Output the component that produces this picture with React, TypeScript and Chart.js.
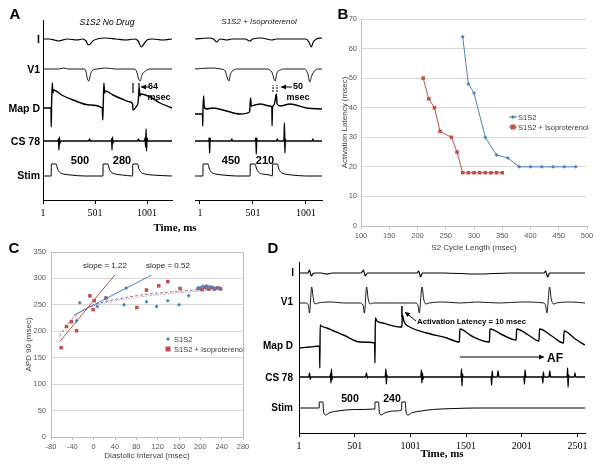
import React, { useEffect, useRef } from "react";
import { Chart, registerables } from "chart.js";

Chart.register(...registerables);

// ================= DATA =================
// Panel A, left record (S1S2 No Drug): [time ms, deflection]
const aNoDrugI = [[1,0],[60,0],[110,-1],[150,-2],[190,-1],[230,0],[330,-1],[380,0],[415,-2],[435,-6],[455,-5],[480,-2],[520,0],[600,1],[700,0],[800,-1],[880,0],[915,-2],[945,-8],[970,-5],[1000,-1],[1050,0],[1150,-1],[1240,0]];
const aNoDrugV1 = [[1,0],[150,0],[200,1],[250,0],[400,0],[415,-3],[428,-10],[442,-12],[458,-5],[480,-1],[520,0],[600,1],[700,0],[880,0],[902,-3],[920,-10],[935,-12],[952,-6],[985,-2],[1030,0],[1240,0]];
const aNoDrugMap = [[1,0],[78,0],[80,-19],[84,5],[90,25],[96,15],[104,18],[180,13],[290,8],[450,3],[570,0],[575,-12],[580,5],[586,25],[592,15],[600,17],[673,13],[760,9],[840,6],[862,4],[865,-2],[900,2],[915,6],[925,20],[933,12],[942,14],[1030,11],[1125,5],[1240,0]];
const aNoDrugCS = [[1,0],[145,0],[150,2],[154,-9],[158,4],[162,-3],[168,0],[440,0],[448,2],[456,0],[655,0],[660,2],[664,-9],[668,4],[672,-2],[680,0],[910,0],[918,2],[926,0],[975,0],[982,3],[987,-6],[991,12],[995,-10],[1000,3],[1008,0],[1240,0]];
const aNoDrugStim = [[1,0],[80,0],[81,12],[128,12],[138,8],[158,4],[198,2],[268,1],[400,0],[577,0],[578,12],[625,12],[635,8],[655,4],[695,2],[765,1],[862,0],[863,12],[910,12],[920,8],[940,4],[980,2],[1050,1],[1240,0]];

// Panel A, right record (S1S2 + Isoproterenol)
const aIsoI = [[-45,0],[80,1],[130,0],[160,-3],[190,0],[260,-1],[300,0],[430,0],[470,-2],[500,0],[580,1],[680,-1],[720,0],[1000,0],[1030,-3],[1052,-8],[1070,-3],[1100,0],[1153,1]];
const aIsoV1 = [[-45,0],[100,1],[200,0],[240,-2],[260,-9],[275,-12],[290,-5],[320,-1],[360,0],[620,0],[680,-3],[700,-10],[712,-12],[725,-5],[760,-1],[800,0],[990,0],[1020,-5],[1038,-13],[1055,-7],[1090,-1],[1120,0],[1153,0]];
const aIsoMap = [[-45,-6],[1,-6],[26,-6],[28,-18],[31,0],[36,12],[42,2],[60,-1],[120,0],[220,-2],[380,-6],[470,-4],[472,-2],[476,6],[480,10],[486,2],[520,3],[570,4],[660,2],[680,1],[682,-18],[686,0],[700,3],[712,8],[722,14],[730,4],[760,2],[850,4],[1010,0],[1153,-1]];
const aIsoCS = [[-45,0],[85,0],[89,3],[93,-12],[97,3],[101,0],[295,0],[302,2],[310,0],[525,0],[529,3],[533,-13],[537,3],[541,0],[725,0],[732,2],[740,0],[790,0],[795,3],[799,18],[803,-12],[807,2],[812,0],[1060,0],[1067,2],[1074,0],[1153,0]];
const aIsoStim = [[-45,0],[30,0],[31,12],[78,12],[88,8],[108,4],[150,2],[220,1],[350,0],[475,0],[476,12],[523,12],[533,8],[553,4],[593,2],[660,1],[685,0],[686,12],[733,12],[743,8],[763,4],[803,2],[870,1],[1000,0],[1153,0]];
const aTimeTicks = [1, 501, 1001];

// Panel B: activation latency vs S2 cycle length
const bCycleS1S2 = [280, 290, 300, 320, 340, 360, 380, 400, 420, 440, 460, 480];
const bLatencyS1S2 = [64, 48, 45, 30, 24, 23, 20, 20, 20, 20, 20, 20];
const bCycleIso = [210, 220, 230, 240, 260, 270, 280, 290, 300, 310, 320, 330, 340, 350];
const bLatencyIso = [50, 43, 40, 32, 30, 25, 18, 18, 18, 18, 18, 18, 18, 18];

// Panel C: APD90 vs diastolic interval
const cDiS1S2 = [-26, -32, 7, 23, 61, 57, 99, 118, 139, 160, 178, 196, 200, 205, 212, 218, 224, 230, 236];
const cApdS1S2 = [254, 220, 247, 263, 282, 250, 256, 247, 258, 250, 267, 282, 283, 285, 282, 284, 283, 282, 282];
const cDiIso = [-61, -51, -42, -32, -7, 1, -1, 23, 81, 99, 122, 139, 162, 196, 203, 208, 212, 216, 220, 226, 232, 238];
const cApdIso = [169, 209, 218, 201, 267, 258, 241, 263, 245, 278, 286, 294, 281, 281, 279, 283, 285, 280, 283, 280, 282, 280];
const cFitIsoX = [-64, 40];
const cFitIsoY = [180, 307];
const cFitS1S2X = [-36, 108];
const cFitS1S2Y = [231, 306];
const cLogIsoX = [-64, -50, -35, -20, 0, 30, 60, 100, 150, 200, 240];
const cLogIsoY = [190, 212, 228, 240, 250, 258, 264, 270, 275, 279, 282];
const cLogS1S2X = [-40, -20, 0, 40, 80, 120, 160, 200, 240];
const cLogS1S2Y = [226, 240, 248, 258, 264, 269, 273, 276, 279];

// Panel D: induction of AF
const dI = [[1,0],[80,0],[95,3],[110,-3],[125,-1],[140,0],[200,0],[250,-1],[300,0],[560,0],[580,3],[595,-3],[615,0],[1060,0],[1075,2],[1092,-4],[1110,0],[1300,0],[1600,-1],[1900,0],[2200,0],[2215,2],[2232,-4],[2250,0],[2568,0]];
const dV1 = [[1,0],[60,0],[85,-2],[95,-10],[115,16],[130,4],[145,-1],[170,0],[300,1],[400,0],[550,0],[575,-2],[588,-10],[608,16],[622,4],[640,-1],[665,0],[800,0],[1050,0],[1070,-3],[1080,-10],[1105,16],[1120,4],[1140,-1],[1170,0],[1300,1],[1450,0],[1600,1],[1800,0],[2000,1],[2200,0],[2215,-3],[2226,-10],[2250,16],[2265,4],[2285,-1],[2310,0],[2450,1],[2568,0]];
const dMap = [[1,0],[100,1],[185,2],[188,-20],[191,23],[200,22],[250,20],[400,13],[550,6],[680,5],[683,-15],[686,30],[700,27],[754,25],[906,21],[925,21],[928,33],[945,26],[996,21],[1149,15],[1328,10],[1440,6],[1445,19],[1550,12],[1710,6],[1715,19],[1830,13],[1950,8],[1955,19],[2060,13],[2155,7],[2160,19],[2270,12],[2375,5],[2380,17],[2480,9],[2568,3]];
const dCS = [[1,0],[90,0],[95,4],[102,-2],[108,0],[280,0],[284,3],[288,-6],[292,8],[296,-3],[300,0],[600,0],[606,4],[614,-1],[620,0],[772,0],[777,2],[781,8],[785,-7],[789,2],[795,0],[1095,0],[1100,7],[1104,-6],[1108,4],[1114,-2],[1120,0],[1455,0],[1460,8],[1464,-9],[1468,3],[1474,0],[1725,0],[1730,-8],[1735,6],[1740,0],[1780,0],[1788,6],[1795,0],[2020,0],[2025,-7],[2030,7],[2036,0],[2185,0],[2190,-6],[2194,5],[2200,0],[2245,0],[2252,6],[2258,0],[2408,0],[2412,9],[2416,-10],[2420,2],[2426,0],[2472,0],[2478,4],[2484,0],[2568,0]];
const dStim = [[1,0],[182,0],[183,6],[215,6],[222,-4],[240,-7],[270,-5],[350,-3],[500,-1.5],[682,-1],[683,6],[715,6],[722,-4],[740,-7],[770,-5],[850,-3],[922,-2],[923,6],[955,6],[962,-4],[980,-7],[1010,-5],[1100,-3],[1200,-1.5],[1400,-0.5],[1600,0],[2568,0]];
const dTimeTicks = [1, 501, 1001, 1501, 2001, 2501];

// ================= STYLE / HELPERS =================
const SANS = "'Liberation Sans', Arial, Helvetica, sans-serif";
const SERIF = "'Liberation Serif', 'Times New Roman', serif";
const BLUE = "#4f81bd";
const RED = "#c0504d";

type Mark = { x1: number; y1: number; x2: number; y2: number; arrow?: boolean; width?: number; dash?: number[] };

const marksPlugin: any = {
  id: "marks",
  afterDatasetsDraw(chart: any, _a: any, opts: any) {
    const items: Mark[] = (opts && opts.items) || [];
    const { ctx } = chart;
    const xs = chart.scales.x, ys = chart.scales.y;
    ctx.save();
    items.forEach((m) => {
      const x1 = xs.getPixelForValue(m.x1), y1 = ys.getPixelForValue(m.y1);
      const x2 = xs.getPixelForValue(m.x2), y2 = ys.getPixelForValue(m.y2);
      ctx.strokeStyle = "#000";
      ctx.fillStyle = "#000";
      ctx.lineWidth = m.width || 1;
      ctx.setLineDash(m.dash || []);
      ctx.beginPath();
      ctx.moveTo(x1, y1);
      ctx.lineTo(x2, y2);
      ctx.stroke();
      if (m.arrow) {
        const ang = Math.atan2(y2 - y1, x2 - x1);
        const L = 5, W = 2.5;
        ctx.setLineDash([]);
        ctx.beginPath();
        ctx.moveTo(x2, y2);
        ctx.lineTo(x2 - L * Math.cos(ang) + W * Math.sin(ang), y2 - L * Math.sin(ang) - W * Math.cos(ang));
        ctx.lineTo(x2 - L * Math.cos(ang) - W * Math.sin(ang), y2 - L * Math.sin(ang) + W * Math.cos(ang));
        ctx.closePath();
        ctx.fill();
      }
    });
    ctx.restore();
  },
};

const keyPlugin: any = {
  id: "key",
  afterDraw(chart: any, _a: any, opts: any) {
    const items = (opts && opts.items) || [];
    const { ctx } = chart;
    ctx.save();
    items.forEach((it: any) => {
      const ds = chart.data.datasets[it.dataset];
      const cx = it.x + (it.line ? it.len / 2 : 0);
      if (it.line) {
        ctx.strokeStyle = ds.borderColor;
        ctx.lineWidth = 1;
        ctx.beginPath();
        ctx.moveTo(it.x, it.y);
        ctx.lineTo(it.x + it.len, it.y);
        ctx.stroke();
      }
      ctx.fillStyle = ds.backgroundColor;
      const r = ds.pointRadius;
      if (ds.pointStyle === "rect") {
        ctx.fillRect(cx - r, it.y - r, 2 * r, 2 * r);
      } else {
        ctx.beginPath();
        ctx.moveTo(cx, it.y - r);
        ctx.lineTo(cx + r, it.y);
        ctx.lineTo(cx, it.y + r);
        ctx.lineTo(cx - r, it.y);
        ctx.closePath();
        ctx.fill();
      }
      ctx.fillStyle = "#404040";
      ctx.font = `7.5px ${SANS}`;
      ctx.textBaseline = "middle";
      ctx.textAlign = "left";
      ctx.fillText(it.label, it.textX, it.y + 0.5);
    });
    ctx.restore();
  },
};

const framePlugin: any = {
  id: "frame",
  afterDraw(chart: any, _a: any, opts: any) {
    if (!opts || !opts.show) return;
    const { ctx, chartArea: a } = chart;
    ctx.save();
    ctx.strokeStyle = "#bfbfbf";
    ctx.lineWidth = 1;
    ctx.strokeRect(Math.round(a.left) + 0.5, Math.round(a.top) + 0.5, Math.round(a.right - a.left), Math.round(a.bottom - a.top));
    ctx.restore();
  },
};

type Lane = { pts: number[][]; base: number; width: number };

function traceConfig(o: {
  lanes: Lane[]; xMin: number; xMax: number; yMax: number; ticks: number[];
  yAxis: boolean; yWidth: number; xHeight: number; padding: any; marks: Mark[]; title?: string;
}): any {
  return {
    type: "line",
    data: {
      datasets: o.lanes.map((l) => ({
        data: l.pts.map((p) => ({ x: p[0], y: l.base + p[1] })),
        borderColor: "#000",
        borderWidth: l.width,
        pointRadius: 0,
        cubicInterpolationMode: "monotone",
        fill: false,
      })),
    },
    plugins: [marksPlugin],
    options: {
      responsive: false,
      animation: false,
      events: [],
      layout: { padding: o.padding },
      plugins: { legend: { display: false }, tooltip: { enabled: false }, marks: { items: o.marks } },
      scales: {
        x: {
          type: "linear",
          min: o.xMin,
          max: o.xMax,
          afterBuildTicks: (s: any) => { s.ticks = o.ticks.map((v) => ({ value: v })); },
          afterFit: (s: any) => { s.height = o.xHeight; },
          ticks: { font: { family: SERIF, size: 10 }, color: "#000", padding: 3, maxRotation: 0, autoSkip: false, callback: (v: any) => String(v) },
          grid: { display: true, drawOnChartArea: false, drawTicks: true, tickLength: 4, color: "#000" },
          border: { display: true, color: "#000", width: 1 },
          title: o.title
            ? { display: true, text: o.title, font: { family: SERIF, size: 11, weight: "bold" }, color: "#000", padding: { top: 0, bottom: 9 } }
            : { display: false },
        },
        y: {
          display: o.yAxis,
          min: 0,
          max: o.yMax,
          afterFit: (s: any) => { s.width = o.yWidth; },
          ticks: { display: false },
          grid: { display: false },
          border: { display: true, color: "#000", width: 1 },
        },
      },
    },
  };
}

const pairs = (xs: number[], ys: number[]) => xs.map((x, i) => ({ x, y: ys[i] }));

const axisTick = { font: { family: SANS, size: 7.5 }, color: "#595959" };

function configB(): any {
  return {
    type: "scatter",
    data: {
      datasets: [
        { data: pairs(bCycleS1S2, bLatencyS1S2), showLine: true, borderColor: BLUE, backgroundColor: BLUE, borderWidth: 1, pointStyle: "rectRot", pointRadius: 2, pointBorderWidth: 0 },
        { data: pairs(bCycleIso, bLatencyIso), showLine: true, borderColor: RED, backgroundColor: RED, borderWidth: 1, pointStyle: "rect", pointRadius: 2.5, pointBorderWidth: 0 },
      ],
    },
    plugins: [keyPlugin],
    options: {
      responsive: false,
      animation: false,
      events: [],
      layout: { padding: { top: 19, right: 14, left: 0, bottom: 0 } },
      plugins: {
        legend: { display: false },
        tooltip: { enabled: false },
        key: {
          items: [
            { dataset: 0, label: "S1S2", x: 174, y: 117, line: true, len: 8, textX: 183 },
            { dataset: 1, label: "S1S2 + Isoproterenol", x: 174, y: 127, line: true, len: 8, textX: 183 },
          ],
        },
      },
      scales: {
        x: {
          type: "linear", min: 100, max: 500,
          afterFit: (s: any) => { s.height = 36; },
          ticks: { ...axisTick, stepSize: 50, padding: 2, maxRotation: 0 },
          grid: { drawOnChartArea: false, drawTicks: true, tickLength: 3, color: "#bfbfbf" },
          border: { display: true, color: "#bfbfbf" },
          title: { display: true, text: "S2 Cycle Length (msec)", font: { family: SANS, size: 8 }, color: "#404040", padding: { top: 0, bottom: 9 } },
        },
        y: {
          min: 0, max: 70,
          afterFit: (s: any) => { s.width = 26; },
          ticks: { ...axisTick, stepSize: 10, padding: 4 },
          grid: { color: "#d9d9d9", drawTicks: false },
          border: { display: true, color: "#bfbfbf" },
          title: { display: true, text: "Activation Latency (msec)", font: { family: SANS, size: 8 }, color: "#404040", padding: { top: 5, bottom: 0 } },
        },
      },
    },
  };
}

function configC(): any {
  return {
    type: "scatter",
    data: {
      datasets: [
        { data: pairs(cDiS1S2, cApdS1S2), borderColor: BLUE, backgroundColor: BLUE, pointStyle: "rectRot", pointRadius: 2, pointBorderWidth: 0 },
        { data: pairs(cDiIso, cApdIso), borderColor: RED, backgroundColor: RED, pointStyle: "rect", pointRadius: 2.5, pointBorderWidth: 0 },
        { data: pairs(cFitIsoX, cFitIsoY), showLine: true, borderColor: RED, borderWidth: 1, pointRadius: 0 },
        { data: pairs(cFitS1S2X, cFitS1S2Y), showLine: true, borderColor: BLUE, borderWidth: 1, pointRadius: 0 },
        { data: pairs(cLogIsoX, cLogIsoY), showLine: true, borderColor: "#b46a8a", borderWidth: 1, borderDash: [3, 2], pointRadius: 0, cubicInterpolationMode: "monotone" },
        { data: pairs(cLogS1S2X, cLogS1S2Y), showLine: true, borderColor: "#7f8fc0", borderWidth: 1, borderDash: [1, 1.5], pointRadius: 0, cubicInterpolationMode: "monotone" },
      ],
    },
    plugins: [keyPlugin, framePlugin],
    options: {
      responsive: false,
      animation: false,
      events: [],
      layout: { padding: { top: 12, right: 12, left: 0, bottom: 0 } },
      plugins: {
        legend: { display: false },
        tooltip: { enabled: false },
        frame: { show: true },
        key: {
          items: [
            { dataset: 0, label: "S1S2", x: 168, y: 99, line: false, len: 0, textX: 174 },
            { dataset: 1, label: "S1S2 + Isoproterenol", x: 168, y: 109, line: false, len: 0, textX: 174 },
          ],
        },
      },
      scales: {
        x: {
          type: "linear", min: -80, max: 280,
          afterFit: (s: any) => { s.height = 33; },
          ticks: { ...axisTick, stepSize: 40, padding: 2, maxRotation: 0 },
          grid: { drawOnChartArea: false, drawTicks: true, tickLength: 3, color: "#bfbfbf" },
          border: { display: true, color: "#bfbfbf" },
          title: { display: true, text: "Diastolic Interval (msec)", font: { family: SANS, size: 8 }, color: "#404040", padding: { top: 0, bottom: 9 } },
        },
        y: {
          min: 0, max: 350,
          afterFit: (s: any) => { s.width = 51; },
          ticks: { ...axisTick, stepSize: 50, padding: 5 },
          grid: { color: "#d9d9d9", drawTicks: false },
          border: { display: true, color: "#bfbfbf" },
          title: { display: true, text: "APD 90 (msec)", font: { family: SANS, size: 8 }, color: "#404040", padding: { top: 24, bottom: 0 } },
        },
      },
    },
  };
}

type Txt = { x: number; y: number; t: string; size: number; bold?: boolean; italic?: boolean; serif?: boolean; align?: "left" | "center" | "right" };

const texts: Txt[] = [
  { x: 15, y: 13, t: "A", size: 15, bold: true },
  { x: 343, y: 13, t: "B", size: 15, bold: true },
  { x: 14, y: 247, t: "C", size: 15, bold: true },
  { x: 273, y: 247, t: "D", size: 15, bold: true },
  { x: 107, y: 22, t: "S1S2 No Drug", size: 8.5, italic: true },
  { x: 259, y: 22, t: "S1S2 + Isoproterenol", size: 8, italic: true },
  { x: 40, y: 39, t: "I", size: 10.5, bold: true, align: "right" },
  { x: 40, y: 69, t: "V1", size: 10.5, bold: true, align: "right" },
  { x: 40, y: 108, t: "Map D", size: 10.5, bold: true, align: "right" },
  { x: 40, y: 141, t: "CS 78", size: 10.5, bold: true, align: "right" },
  { x: 40, y: 175, t: "Stim", size: 10.5, bold: true, align: "right" },
  { x: 80, y: 160, t: "500", size: 11, bold: true },
  { x: 122, y: 160, t: "280", size: 11, bold: true },
  { x: 231, y: 160, t: "450", size: 11, bold: true },
  { x: 265, y: 160, t: "210", size: 11, bold: true },
  { x: 153, y: 86, t: "64", size: 9, bold: true },
  { x: 159, y: 97, t: "msec", size: 9, bold: true },
  { x: 298, y: 86, t: "50", size: 9, bold: true },
  { x: 298, y: 97, t: "msec", size: 9, bold: true },
  { x: 175, y: 227, t: "Time, ms", size: 11, bold: true, serif: true },
  { x: 105, y: 266, t: "slope = 1.22", size: 8 },
  { x: 168, y: 266, t: "slope = 0.52", size: 8 },
  { x: 294, y: 273, t: "I", size: 10, bold: true, align: "right" },
  { x: 293, y: 302, t: "V1", size: 10, bold: true, align: "right" },
  { x: 293, y: 346, t: "Map D", size: 10, bold: true, align: "right" },
  { x: 293, y: 378, t: "CS 78", size: 10, bold: true, align: "right" },
  { x: 293, y: 408, t: "Stim", size: 10, bold: true, align: "right" },
  { x: 350, y: 398, t: "500", size: 10.5, bold: true },
  { x: 392, y: 398, t: "240", size: 10.5, bold: true },
  { x: 417, y: 322, t: "Activation Latency = 10 msec", size: 7.8, bold: true, align: "left" },
  { x: 555, y: 358, t: "AF", size: 12, bold: true },
];

export default function App() {
  const aL = useRef<HTMLCanvasElement>(null);
  const aR = useRef<HTMLCanvasElement>(null);
  const bC = useRef<HTMLCanvasElement>(null);
  const cC = useRef<HTMLCanvasElement>(null);
  const dC = useRef<HTMLCanvasElement>(null);

  useEffect(() => {
    const charts: Chart[] = [];
    charts.push(new Chart(aL.current!, traceConfig({
      lanes: [
        { pts: aNoDrugI, base: 161, width: 1.2 },
        { pts: aNoDrugV1, base: 131, width: 0.9 },
        { pts: aNoDrugMap, base: 92, width: 1.4 },
        { pts: aNoDrugCS, base: 59, width: 1.4 },
        { pts: aNoDrugStim, base: 24, width: 1 },
      ],
      xMin: 1, xMax: 1240, yMax: 180, ticks: aTimeTicks, yAxis: true, yWidth: 43, xHeight: 25,
      padding: { top: 20, right: 8, left: 0, bottom: 0 },
      marks: [
        { x1: 865, y1: 107, x2: 865, y2: 117, width: 1.2 },
        { x1: 923, y1: 107, x2: 923, y2: 117, width: 1.2 },
        { x1: 1019, y1: 113, x2: 942, y2: 113, arrow: true },
      ],
    })));
    charts.push(new Chart(aR.current!, traceConfig({
      lanes: [
        { pts: aIsoI, base: 161, width: 1.2 },
        { pts: aIsoV1, base: 131, width: 0.9 },
        { pts: aIsoMap, base: 92, width: 1.4 },
        { pts: aIsoCS, base: 59, width: 1.4 },
        { pts: aIsoStim, base: 24, width: 1 },
      ],
      xMin: -45, xMax: 1153, yMax: 180, ticks: aTimeTicks, yAxis: false, yWidth: 0, xHeight: 25,
      padding: { top: 20, right: 8, left: 5, bottom: 0 },
      marks: [
        { x1: 691, y1: 108, x2: 691, y2: 115, dash: [2, 1] },
        { x1: 729, y1: 108, x2: 729, y2: 115, dash: [2, 1] },
        { x1: 870, y1: 113, x2: 766, y2: 113, arrow: true },
      ],
    })));
    charts.push(new Chart(bC.current!, configB()));
    charts.push(new Chart(cC.current!, configC()));
    charts.push(new Chart(dC.current!, traceConfig({
      lanes: [
        { pts: dI, base: 160, width: 1.2 },
        { pts: dV1, base: 130, width: 0.9 },
        { pts: dMap, base: 85, width: 1.4 },
        { pts: dCS, base: 56, width: 1.4 },
        { pts: dStim, base: 25, width: 1 },
      ],
      xMin: 1, xMax: 2568, yMax: 171, ticks: dTimeTicks, yAxis: true, yWidth: 39, xHeight: 37,
      padding: { top: 7, right: 16, left: 0, bottom: 0 },
      title: "Time, ms",
      marks: [
        { x1: 925, y1: 116, x2: 925, y2: 127, width: 1.5 },
        { x1: 1051, y1: 112, x2: 952, y2: 121, arrow: true },
        { x1: 1446, y1: 76, x2: 2200, y2: 76, arrow: true },
      ],
    })));
    return () => charts.forEach((c) => c.destroy());
  }, []);

  const abs = (l: number, t: number): React.CSSProperties => ({ position: "absolute", left: l, top: t });

  return (
    <div style={{ position: "absolute", left: 0, top: 0, width: 601, height: 470, background: "#fff", overflow: "hidden" }}>
      <canvas ref={aL} width={180} height={225} style={abs(0, 0)} />
      <canvas ref={aR} width={140} height={225} style={abs(190, 0)} />
      <canvas ref={bC} width={266} height={262} style={abs(335, 0)} />
      <canvas ref={cC} width={255} height={230} style={abs(0, 240)} />
      <canvas ref={dC} width={341} height={215} style={abs(260, 255)} />
      {texts.map((t, i) => (
        <div
          key={i}
          style={{
            position: "absolute",
            left: t.x,
            top: t.y,
            transform: t.align === "right" ? "translate(-100%,-50%)" : t.align === "left" ? "translate(0,-50%)" : "translate(-50%,-50%)",
            whiteSpace: "nowrap",
            lineHeight: 1,
            fontFamily: t.serif ? SERIF : SANS,
            fontSize: t.size,
            fontWeight: t.bold ? "bold" : "normal",
            fontStyle: t.italic ? "italic" : "normal",
            color: t.size <= 8 && !t.bold ? "#222" : "#000",
          }}
        >
          {t.t}
        </div>
      ))}
    </div>
  );
}
